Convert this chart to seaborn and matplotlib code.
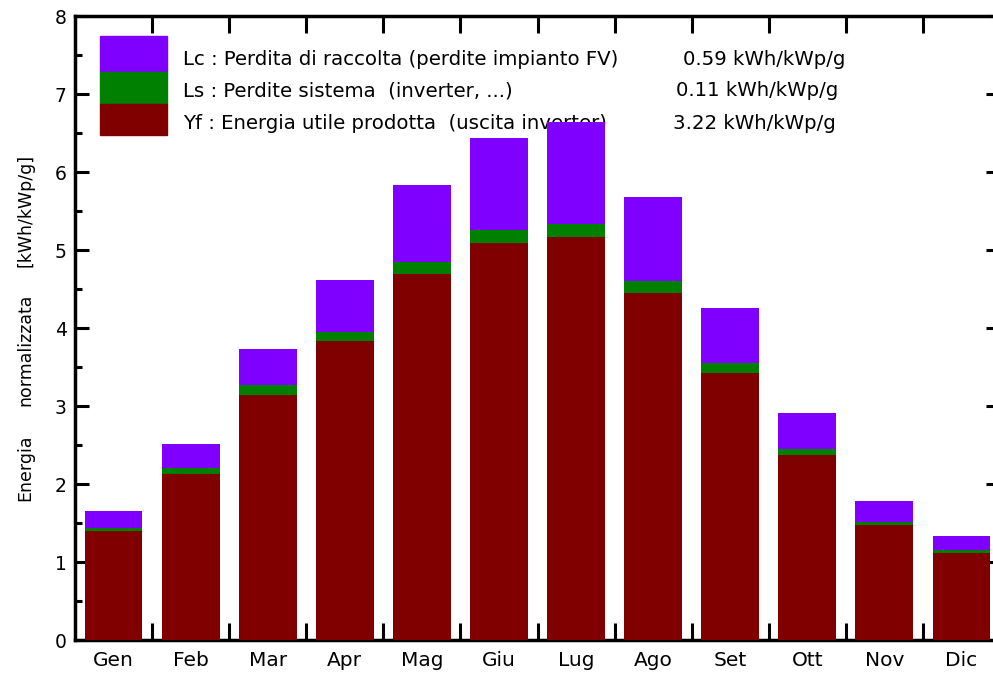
import numpy as np
import pandas as pd
import matplotlib
matplotlib.use("Agg")
import matplotlib.pyplot as plt
import seaborn as sns
from matplotlib.patches import Rectangle

months = ["Gen", "Feb", "Mar", "Apr", "Mag", "Giu", "Lug", "Ago", "Set", "Ott", "Nov", "Dic"]
# kWh/kWp/g
yf = [1.40, 2.13, 3.14, 3.83, 4.69, 5.09, 5.17, 4.45, 3.42, 2.37, 1.47, 1.12]
ls = [0.04, 0.08, 0.13, 0.12, 0.16, 0.17, 0.16, 0.15, 0.13, 0.08, 0.04, 0.03]
lc = [0.21, 0.30, 0.46, 0.67, 0.98, 1.18, 1.31, 1.08, 0.71, 0.46, 0.27, 0.18]

legend_labels = ["Lc : Perdita di raccolta (perdite impianto FV)",
                 "Ls : Perdite sistema  (inverter, ...)",
                 "Yf : Energia utile prodotta  (uscita inverter)"]
legend_values = ["0.59 kWh/kWp/g", "0.11 kWh/kWp/g", "3.22 kWh/kWp/g"]

c_lc = "#8000ff"
c_ls = "#008000"
c_yf = "#800000"

df = pd.DataFrame({"mese": months, "yf": yf, "ls": ls, "lc": lc})
df["yf_ls"] = df["yf"] + df["ls"]
df["tot"] = df["yf_ls"] + df["lc"]

sns.set_style("white")
plt.rcParams["font.family"] = ["DejaVu Sans"]
plt.rcParams["text.color"] = "black"
plt.rcParams["xtick.color"] = "black"
plt.rcParams["ytick.color"] = "black"

fig = plt.figure(figsize=(9.93, 6.73), dpi=100)
ax = fig.add_axes([75 / 993, 33 / 673, 925 / 993, 624 / 673])

for col, colr in [("tot", c_lc), ("yf_ls", c_ls), ("yf", c_yf)]:
    sns.barplot(data=df, x="mese", y=col, order=months, color=colr,
                saturation=1, width=0.75, linewidth=0, ax=ax)
for p in ax.patches:
    p.set_zorder(3)

ax.set_xlim(-0.5, 11.5)
ax.set_ylim(0, 8)
ax.set_xlabel("")
ax.set_ylabel("")

ax.set_xticks(np.arange(0.5, 11, 1))
ax.set_xticklabels([])
ax.set_xticks(range(12), minor=True)
ax.set_xticklabels(months, minor=True, fontsize=14.5)
ax.tick_params(axis="x", which="major", direction="in", length=12, width=2.2,
               top=True, bottom=True)
ax.tick_params(axis="x", which="minor", length=0, pad=8)

ax.set_yticks(range(9))
ax.set_yticks(np.arange(0.5, 8, 1), minor=True)
ax.tick_params(axis="y", which="major", direction="in", length=10, width=2.2,
               left=True, right=True, labelsize=13.5, pad=6)
ax.tick_params(axis="y", which="minor", direction="in", length=5, width=2.2,
               left=True, right=True)

for s in ax.spines.values():
    s.set_linewidth(2.5)
    s.set_color("black")

# legend block
tr = ax.get_yaxis_transform()
bx, bw = 25 / 925, 67 / 925
ax.add_patch(Rectangle((bx, 7.28), bw, 0.46, transform=tr, color=c_lc, zorder=4, clip_on=False))
ax.add_patch(Rectangle((bx, 6.87), bw, 0.41, transform=tr, color=c_ls, zorder=4, clip_on=False))
ax.add_patch(Rectangle((bx, 6.47), bw, 0.40, transform=tr, color=c_yf, zorder=4, clip_on=False))

# text sits under the bars, as in the original (Lug covers "inverter)")
for lab, val, y, xv in zip(legend_labels, legend_values, [7.44, 7.04, 6.62],
                           [683, 676, 673]):
    ax.text(108 / 925, y, lab, transform=tr, fontsize=14.2, va="center", zorder=2)
    ax.text((xv - 75) / 925, y, val, transform=tr, fontsize=14.2, va="center", zorder=2)

# y label in three pieces like the original
for txt, ypix in [("Energia", 468), ("normalizzata", 350), ("[kWh/kWp/g]", 210)]:
    fig.text(25 / 993, 1 - ypix / 673, txt, rotation=90, fontsize=12.5,
             ha="center", va="center")

fig.savefig("out.png", dpi=100)
